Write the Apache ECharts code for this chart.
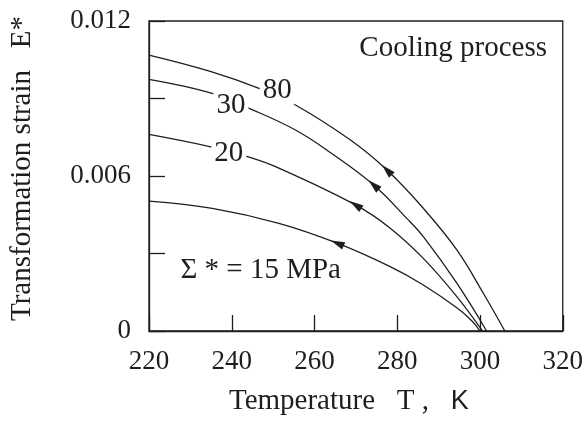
<!DOCTYPE html>
<html><head><meta charset="utf-8">
<script src="https://cdn.jsdelivr.net/npm/echarts@6/dist/echarts.min.js"></script>
<style>html,body{margin:0;padding:0;background:#fff}#c{width:586px;height:424px}</style>
</head><body><div id="c"></div>
<script>
// Temperature (K) / transformation strain values
const T80 = [220, 235, 246.6, 255.4, 268.7, 277.5, 286.3, 294.4, 300.8, 306.0];
const E80 = [0.01068, 0.01004, 0.00939, 0.00875, 0.00739, 0.00623, 0.00475, 0.00314, 0.00146, 0];
const T30 = [220, 235.3, 244.2, 255.4, 263.9, 274.3, 282.3, 286.3, 294.4, 301.6];
const E30 = [0.00974, 0.0092, 0.00862, 0.00778, 0.0069, 0.00565, 0.00436, 0.00365, 0.00185, 0];
const T20 = [220, 234.9, 243.8, 250.6, 269.9, 278.3, 286.3, 294.4, 300.6];
const E20 = [0.00761, 0.00713, 0.00675, 0.00636, 0.00488, 0.00398, 0.00281, 0.00133, 0];
const T15 = [220, 235.3, 251.4, 265.5, 278.3, 286.3, 294.4, 298.0, 300.0];
const E15 = [0.00503, 0.00475, 0.00417, 0.0034, 0.00249, 0.00178, 0.0009, 0.0004, 0];
const stressLabels = ['80', '30', '20', '15'];
const labelT = [251.0, 239.8, 239.3];
const labelE = [0.00933, 0.00875, 0.00689];
const arrowT = [277.5, 274.3, 269.9, 265.5];
const arrowE = [0.00623, 0.00565, 0.00488, 0.0034];
const yTickLabels = ['0', '0.006', '0.012'];

const FONT = 'Liberation Serif';
const INK = '#1e1e1e';
const arrowRot = [45, 48, 57, 67];

function pairs(T, E) { return T.map((t, i) => [t, E[i]]); }
const curves = [pairs(T80, E80), pairs(T30, E30), pairs(T20, E20), pairs(T15, E15)];

const series = curves.map((d, i) => {
  const mp = [];
  if (i < 3) {
    mp.push({
      coord: [labelT[i], labelE[i]], symbol: 'rect', symbolSize: 0,
      label: { show: true, formatter: stressLabels[i], fontFamily: FONT, fontSize: 29, color: INK,
        backgroundColor: '#fff', padding: [0, 3] }
    });
  } else {
    mp.push({
      coord: [247, 0.00236], symbol: 'rect', symbolSize: 0,
      label: { show: true, formatter: 'Σ * = 15 MPa', fontFamily: FONT, fontSize: 29, color: INK }
    });
  }
  mp.push({
    coord: [arrowT[i], arrowE[i]], symbol: 'triangle', symbolSize: [8, 14],
    symbolRotate: arrowRot[i], itemStyle: { color: INK }, label: { show: false }
  });
  return {
    type: 'line', data: d, smooth: 0.4, showSymbol: false,
    lineStyle: { color: INK, width: 1.3 },
    markPoint: { z: 10, silent: true, data: mp }
  };
});

const chart = echarts.init(document.getElementById('c'));
chart.setOption({
  animation: false,
  backgroundColor: '#fff',
  title: {
    text: 'Cooling process', right: 39, top: 34, padding: 0,
    textStyle: { fontFamily: FONT, fontSize: 29, fontWeight: 'normal', color: INK }
  },
  grid: { left: 148, right: 23, top: 21, bottom: 93, show: true, borderColor: INK, borderWidth: 1.3 },
  xAxis: {
    type: 'value', min: 220, max: 320, interval: 20,
    axisLine: { lineStyle: { color: INK, width: 1.3 } },
    axisTick: { inside: true, length: 16, lineStyle: { color: INK, width: 1.3 } },
    splitLine: { show: false },
    axisLabel: { fontFamily: FONT, fontSize: 27, color: INK, margin: 17 },
    name: 'Temperature   T ,   {k|K}', nameLocation: 'middle', nameGap: 56,
    nameTextStyle: { fontFamily: FONT, fontSize: 29, color: INK, padding: [0, 14, 0, 0],
      rich: { k: { fontFamily: 'Liberation Sans', fontSize: 27, color: INK } } }
  },
  yAxis: {
    type: 'value', min: 0, max: 0.012, interval: 0.003,
    axisLine: { lineStyle: { color: INK, width: 1.3 } },
    axisTick: { inside: true, length: 16, lineStyle: { color: INK, width: 1.3 } },
    splitLine: { show: false },
    axisLabel: {
      fontFamily: FONT, fontSize: 27, color: INK, margin: 18,
      formatter: v => {
        const k = Math.round(v * 1000);
        return k % 6 === 0 ? yTickLabels[k / 6] : '';
      }
    },
    name: 'Transformation strain   E*', nameLocation: 'middle', nameGap: 112,
    nameTextStyle: { fontFamily: FONT, fontSize: 29, color: INK, padding: [0, 0, 0, 15] }
  },
  series: series
});
</script></body></html>
